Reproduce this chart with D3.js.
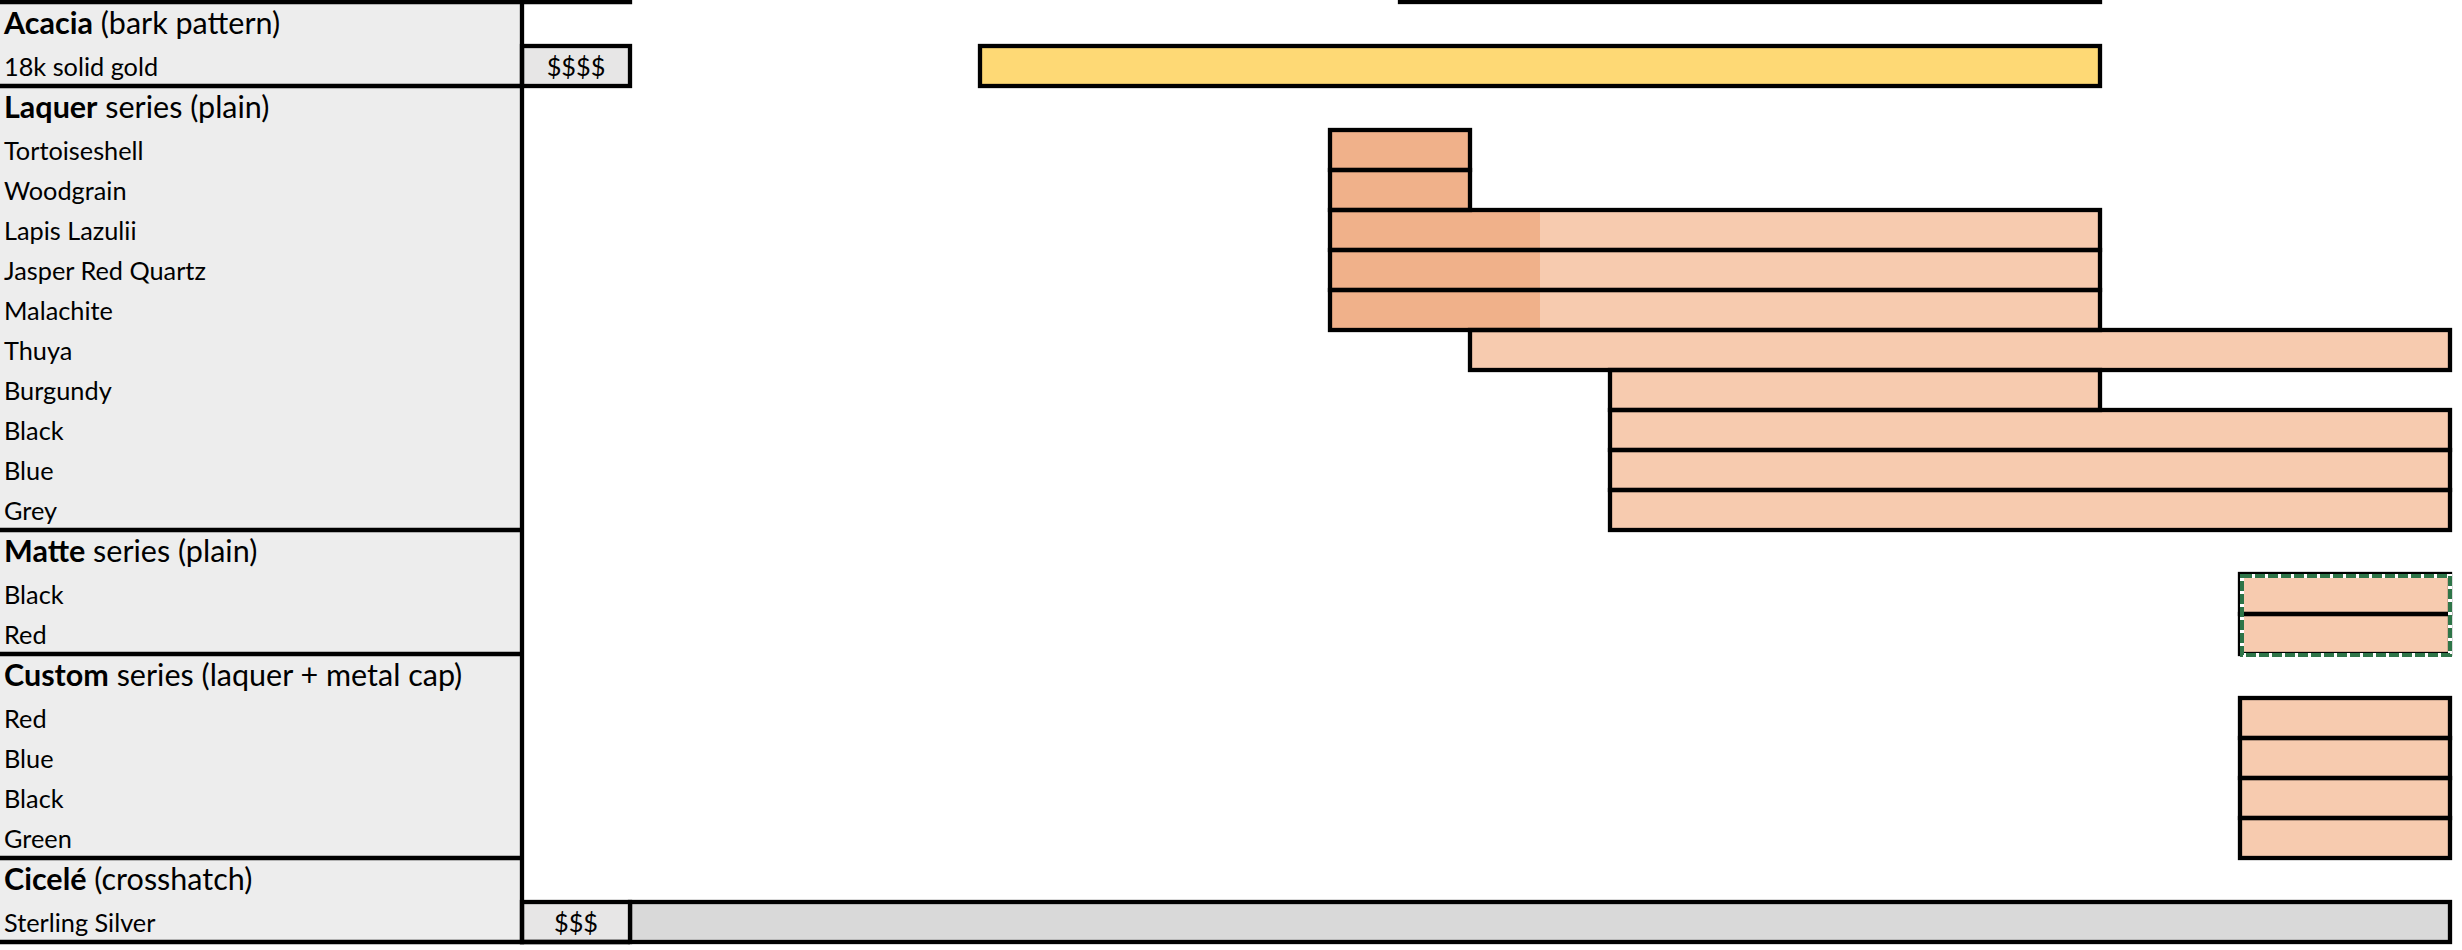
<!DOCTYPE html>
<html>
<head>
<meta charset="utf-8">
<script src="https://cdn.jsdelivr.net/npm/d3@7"></script>
<style>
  html, body { margin: 0; padding: 0; background: #ffffff; }
  svg { display: block; }
</style>
</head>
<body>
<svg id="chart" width="2462" height="950"></svg>
<script>
// ---------------- DATA ----------------
// Row labels of the spreadsheet-like table (top to bottom)
const rowLabels = [
  "Acacia (bark pattern)", "18k solid gold",
  "Laquer series (plain)", "Tortoiseshell", "Woodgrain", "Lapis Lazulii", "Jasper Red Quartz",
  "Malachite", "Thuya", "Burgundy", "Black", "Blue", "Grey",
  "Matte series (plain)", "Black", "Red",
  "Custom series (laquer + metal cap)", "Red", "Blue", "Black", "Green",
  "Cicelé (crosshatch)", "Sterling Silver"
];
// 1 = group header row (first word bold), 0 = item row
const rowIsHeader = [1,0, 1,0,0,0,0,0,0,0,0,0,0, 1,0,0, 1,0,0,0,0, 1,0];
// Price column entries (row index -> text)
const priceRows  = [1, 22];
const priceTexts = ["$$$$", "$$$"];

// Timeline bars (row index, start period, end period, end of darker early phase, material)
const barRow     = [-1, 1, 3, 4, 5, 6, 7, 8, 9, 10, 11, 12, 14, 15, 17, 18, 19, 20, 22];
const barStart   = [11, 5, 10, 10, 10, 10, 10, 12, 14, 14, 14, 14, 23, 23, 23, 23, 23, 23, 0];
const barEnd     = [21, 21, 12, 12, 21, 21, 21, 26, 21, 26, 26, 26, 26, 26, 26, 26, 26, 26, 26];
const barDarkEnd = [null, null, 12, 12, 13, 13, 13, null, null, null, null, null, null, null, null, null, null, null, null];
const barMaterial = ["laquer", "gold", "laquer", "laquer", "laquer", "laquer", "laquer", "laquer", "laquer",
                     "laquer", "laquer", "laquer", "laquer", "laquer", "laquer", "laquer", "laquer", "laquer", "silver"];
// Rows outlined with the dashed (selection) frame
const dashedRows = [14, 15];
const periodDomain = [0, 26];

// ---------------- STYLE / LAYOUT ----------------
const labelColRight = 522;
const priceColRight = 630;
const timelineRight = 2450;
const topY = 2;
const headerH = 44, itemH = 40;
const lineW = 4.3;
const fontFamily = "Lato, 'Open Sans', sans-serif";
const itemFont = 25.3, headerFont = 30.5;

const fills = {
  gold: "#FED975",
  laquer: "#F7CBAF",
  laquerDark: "#F0B18A",
  silver: "#D9D9D9",
  labelCol: "#EDEDED",
  priceCell: "#E7E6E6"
};

const svg = d3.select("#chart");

// Row positions from row heights
const heights = rowIsHeader.map(h => h ? headerH : itemH);
const cum = [0, ...d3.cumsum(heights)];
const rowTop = i => i < 0 ? topY - itemH * (-i) : topY + cum[i];
const rowBottom = i => i < 0 ? rowTop(i) + itemH : topY + cum[i + 1];
const tableBottom = rowBottom(rowLabels.length - 1);

const x = d3.scaleLinear().domain(periodDomain).range([priceColRight, timelineRight]);

// Label column background
svg.append("rect")
  .attr("x", 0).attr("y", 0)
  .attr("width", labelColRight).attr("height", tableBottom)
  .attr("fill", fills.labelCol);

// ---------- Bars ----------
const bars = barRow.map((r, i) => ({
  row: r, start: barStart[i], end: barEnd[i], darkEnd: barDarkEnd[i], mat: barMaterial[i]
}));

const gBars = svg.append("g");
gBars.selectAll("rect.fill").data(bars).join("rect")
  .attr("class", "fill")
  .attr("x", d => x(d.start))
  .attr("y", d => rowTop(d.row))
  .attr("width", d => x(d.end) - x(d.start))
  .attr("height", d => rowBottom(d.row) - rowTop(d.row))
  .attr("fill", d => fills[d.mat]);
gBars.selectAll("rect.dark").data(bars.filter(d => d.darkEnd != null)).join("rect")
  .attr("class", "dark")
  .attr("x", d => x(d.start))
  .attr("y", d => rowTop(d.row))
  .attr("width", d => x(d.darkEnd) - x(d.start))
  .attr("height", d => rowBottom(d.row) - rowTop(d.row))
  .attr("fill", fills.laquerDark);

// ---------- Price cells ----------
const prices = priceRows.map((r, i) => ({ row: r, text: priceTexts[i] }));
svg.append("g").selectAll("rect").data(prices).join("rect")
  .attr("x", labelColRight)
  .attr("y", d => rowTop(d.row))
  .attr("width", priceColRight - labelColRight)
  .attr("height", d => rowBottom(d.row) - rowTop(d.row))
  .attr("fill", fills.priceCell)
  .attr("stroke", "#000").attr("stroke-width", lineW);

// bar outlines
gBars.selectAll("rect.outline").data(bars).join("rect")
  .attr("class", "outline")
  .attr("x", d => x(d.start))
  .attr("y", d => rowTop(d.row))
  .attr("width", d => x(d.end) - x(d.start))
  .attr("height", d => rowBottom(d.row) - rowTop(d.row))
  .attr("fill", "none")
  .attr("stroke", "#000")
  .attr("stroke-width", lineW);

// Dashed selection frame around the matte rows
const dBars = bars.filter(d => dashedRows.includes(d.row));
const dx0 = x(d3.min(dBars, d => d.start)), dx1 = x(d3.max(dBars, d => d.end));
const dy0 = rowTop(d3.min(dashedRows)), dy1 = rowBottom(d3.max(dashedRows));
svg.append("rect")
  .attr("x", dx0 + 2).attr("y", dy0 + 2)
  .attr("width", dx1 - dx0 - 2).attr("height", dy1 - dy0 - 1)
  .attr("fill", "none").attr("stroke", "#ffffff").attr("stroke-width", 4);
svg.append("rect")
  .attr("x", dx0 + 2).attr("y", dy0 + 2)
  .attr("width", dx1 - dx0 - 2).attr("height", dy1 - dy0 - 1)
  .attr("fill", "none").attr("stroke", "#2E7548").attr("stroke-width", 4)
  .attr("stroke-dasharray", "10,3");

// ---------- Table frame lines ----------
const gLines = svg.append("g").attr("stroke", "#000").attr("stroke-width", lineW);
gLines.append("line")
  .attr("x1", labelColRight).attr("x2", labelColRight)
  .attr("y1", 0).attr("y2", tableBottom + lineW / 2);
const headerIdx = rowIsHeader.map((h, i) => h ? i : -1).filter(i => i >= 0);
gLines.selectAll("line.sep").data(headerIdx).join("line")
  .attr("class", "sep")
  .attr("x1", 0)
  .attr("x2", d => d === 0 ? priceColRight + lineW / 2 : labelColRight)
  .attr("y1", d => rowTop(d)).attr("y2", d => rowTop(d));
gLines.append("line")
  .attr("x1", 0).attr("x2", priceColRight)
  .attr("y1", tableBottom).attr("y2", tableBottom);

// ---------- Texts ----------
const gText = svg.append("g")
  .attr("font-family", fontFamily)
  .attr("fill", "#000");

const labelSel = gText.selectAll("text.label").data(rowLabels).join("text")
  .attr("class", "label")
  .attr("x", 4)
  .attr("y", (d, i) => rowBottom(i) - (rowIsHeader[i] ? 12.5 : 10))
  .attr("font-size", (d, i) => rowIsHeader[i] ? headerFont : itemFont);

labelSel.each(function(d, i) {
  const t = d3.select(this);
  if (rowIsHeader[i]) {
    const sp = d.indexOf(" ");
    t.append("tspan").attr("font-weight", "bold").text(d.slice(0, sp));
    t.append("tspan").attr("font-weight", "normal").text(d.slice(sp));
  } else {
    t.text(d);
  }
});

gText.selectAll("text.price").data(prices).join("text")
  .attr("class", "price")
  .attr("x", (labelColRight + priceColRight) / 2)
  .attr("y", d => rowBottom(d.row) - 10)
  .attr("text-anchor", "middle")
  .attr("font-size", itemFont)
  .text(d => d.text);
</script>
</body>
</html>
